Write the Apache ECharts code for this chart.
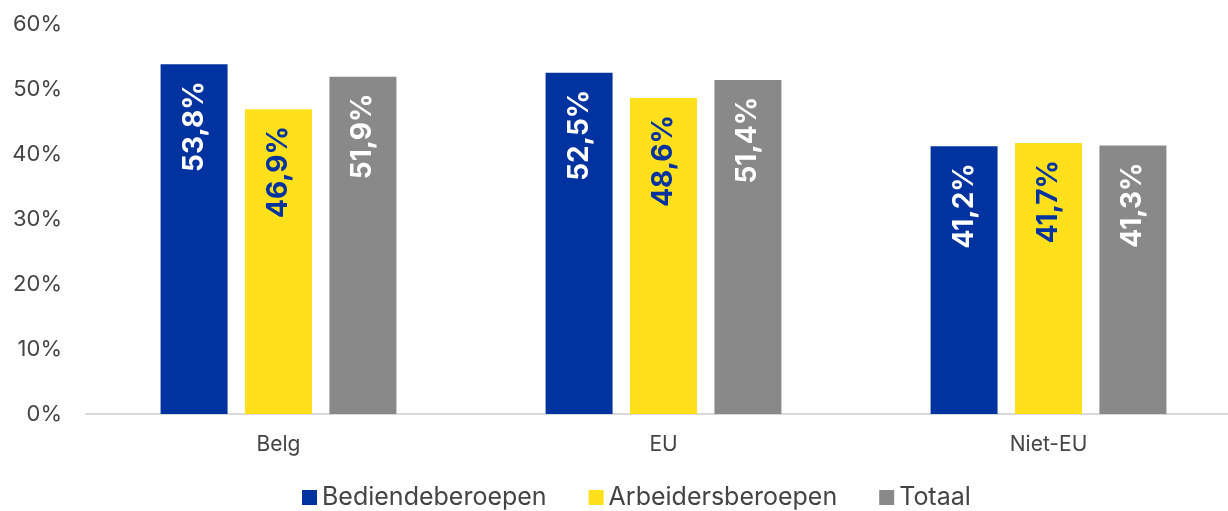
<!DOCTYPE html>
<html>
<head>
<meta charset="utf-8">
<script src="https://cdn.jsdelivr.net/npm/echarts@6/dist/echarts.min.js"></script>
<style>
  html, body { margin: 0; padding: 0; background: #fff; overflow: hidden; }
  #chart { width: 1241px; height: 511px; }
</style>
</head>
<body>
<div id="chart"></div>
<script>
'use strict';

const categories = ['Belg', 'EU', 'Niet-EU'];
const seriesNames = ['Bediendeberoepen', 'Arbeidersberoepen', 'Totaal'];
const bediende = [53.8, 52.5, 41.2];
const arbeiders = [46.9, 48.6, 41.7];
const totaal = [51.9, 51.4, 41.3];
const yTicks = [0, 10, 20, 30, 40, 50, 60];

const FONT = 'Inter, "Noto Sans", sans-serif';
const colors = ['#0033a0', '#ffe01b', '#898989'];
const labelColors = ['#ffffff', '#0033a0', '#ffffff'];

function fmt(v) {
    return v.toFixed(1).replace('.', ',') + '%';
}

function makeSeries(name, data, i) {
    return {
        name: name,
        type: 'bar',
        data: data,
        barWidth: 67,
        barGap: '26%',
        itemStyle: {color: colors[i]},
        label: {
            show: true,
            position: 'insideTop',
            rotate: 90,
            align: 'right',
            verticalAlign: 'middle',
            distance: 17,
            formatter: p => fmt(p.value),
            color: labelColors[i],
            fontFamily: FONT,
            fontWeight: 'bold',
            fontSize: 28
        }
    };
}

// chart is 13px wider than the window: the original axis runs past the right edge
const chart = echarts.init(document.getElementById('chart'), null, {renderer: 'canvas'});

chart.setOption({
    animation: false,
    color: colors,
    grid: {left: 86, right: 0, top: 24, bottom: 97, containLabel: false},
    legend: {
        top: 480,
        left: 297,
        itemWidth: 15,
        itemHeight: 15,
        itemGap: 42,
        icon: 'rect',
        textStyle: {fontFamily: FONT, fontSize: 25, color: '#444'},
        data: seriesNames
    },
    xAxis: {
        type: 'category',
        data: categories,
        axisLine: {lineStyle: {color: '#d9d9d9', width: 2}},
        axisTick: {show: false},
        axisLabel: {fontFamily: FONT, fontSize: 21, color: '#444', margin: 20}
    },
    yAxis: {
        type: 'value',
        min: yTicks[0],
        max: yTicks[yTicks.length - 1],
        interval: 10,
        axisLine: {show: false},
        axisTick: {show: false},
        splitLine: {show: false},
        axisLabel: {
            fontFamily: FONT, fontSize: 22, color: '#444', margin: 24,
            formatter: v => v + '%'
        }
    },
    series: [
        makeSeries(seriesNames[0], bediende, 0),
        makeSeries(seriesNames[1], arbeiders, 1),
        makeSeries(seriesNames[2], totaal, 2)
    ]
});
</script>
</body>
</html>
